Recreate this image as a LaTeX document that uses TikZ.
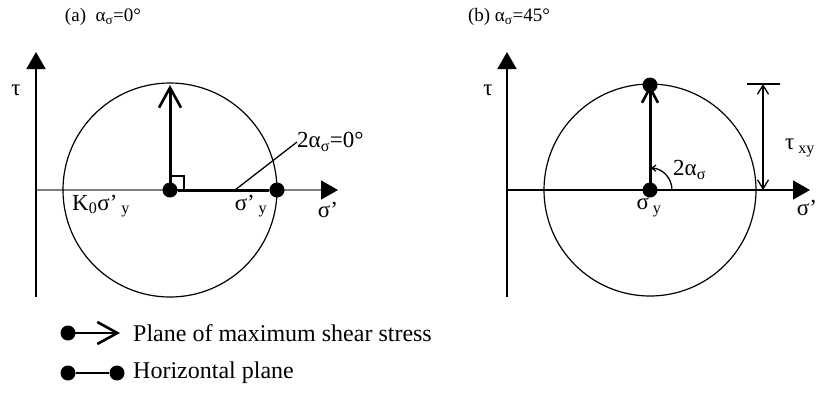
\documentclass[tikz,border=0pt]{standalone}
\usepackage{fontspec}
\setmainfont{Liberation Serif}
\usetikzlibrary{arrows.meta}

\tikzset{
  axis/.style={line width=1.8pt, -{Triangle[length=17pt,width=19pt,color=black]}},
  vec/.style={line width=3pt, -{Straight Barb[length=20pt,width=22pt,line width=2.6pt]}},
  hline/.style={line width=3pt},
  dot/.style={circle, fill, inner sep=0pt, minimum size=15pt},
  lbl/.style={font=\fontsize{23}{25}\selectfont, inner sep=0pt},
  ttl/.style={font=\fontsize{19}{21}\selectfont, inner sep=0pt}
}

\begin{document}
\begin{tikzpicture}[x=1pt, y=-1pt, font=\fontsize{23}{25}\selectfont]
		\useasboundingbox (0,0) rectangle (819,392);
		% (a) alpha = 0
		\coordinate (Ca) at (170,190);
		\coordinate (Ta) at (170,85);
		\coordinate (La) at (235,190);
		\coordinate (Ea) at (297,142);
		\node[ttl] (tta) at (103,17) {(a)\ \ α\textsubscript{σ}=0°};
		\draw[axis, draw=gray] (36,190) -- (338,190);
		\draw[axis] (36,297) -- (36,52);
		\draw[line width=1.2pt] (Ca) circle (107);
		\draw[line width=1.3pt] (Ca) rectangle ++(14,-14);
		\node[dot] (ca) at (Ca) {};
		\node[dot] (ra) at (277,190) {};
		\draw[hline] (ca) -- (ra);
		\draw[vec] (ca.center) -- (Ta);
		\draw[line width=1.3pt] (La) -- (Ea);
		\node[lbl, anchor=west] (aa) at (Ea) {2α\textsubscript{σ}=0°};
		\node[lbl] (tau_a) at (16,90) {τ};
		\node[lbl] (k0) at (101,206) {K\textsubscript{0}σ’\,\textsubscript{y}};
		\node[lbl] (sya) at (251,206) {σ’\,\textsubscript{y}};
		\node[lbl] (sxa) at (328,210) {σ’};
		% (b) alpha = 45
		\coordinate (Cb) at (650,190);
		\coordinate (Tb) at (650,85);
		\node[ttl] (ttb) at (509,17) {(b) α\textsubscript{σ}=45°};
		\draw[axis] (507,190) -- (810,190);
		\draw[axis] (507,297) -- (507,52);
		\draw[line width=1.2pt] (Cb) circle (106);
		\draw[vec, -{Straight Barb[length=15pt,width=16pt,line width=2.6pt]}] (Cb) -- (Tb);
		\node[dot] (cb) at (Cb) {};
		\node[dot] (tb) at (Tb) {};
		\draw[line width=1.3pt, -{Straight Barb[length=4pt,width=6pt]}] (672,190) arc[start angle=0, end angle=-88, radius=22];
		\node[lbl, anchor=west] (ab) at (673,170) {2α\textsubscript{σ}};
		% tau_xy
		\coordinate (D1) at (763,84);
		\coordinate (D2) at (763,190);
		\draw[line width=1.3pt] (747,84) -- (780,84);
		\draw[line width=1.3pt, {Straight Barb[length=9pt,width=11pt]}-{Straight Barb[length=9pt,width=11pt]}] (D1) -- (D2);
		\node[lbl, anchor=west] (txy) at (785,148) {τ\,\textsubscript{xy}};
		\node[lbl] (tau_b) at (488,90) {τ};
		\node[lbl] (syb) at (649,207) {σ\,\textsubscript{y}};
		\node[lbl] (sxb) at (807,208) {σ’};
		% legend
		\node[dot] (l1) at (68,333) {};
		\coordinate (l1e) at (120,333);
		\draw[vec, line width=2.6pt, -{Straight Barb[length=20pt,width=22pt,line width=2.6pt]}] (l1.center) -- (l1e);
		\node[anchor=west, inner sep=0pt, font=\fontsize{24}{26}\selectfont] (t1) at (133,333) {Plane of maximum shear stress};
		\node[dot] (l2a) at (68,373) {};
		\node[dot] (l2b) at (117,373) {};
		\draw[line width=2.6pt] (l2a) -- (l2b);
		\node[anchor=west, inner sep=0pt, font=\fontsize{24}{26}\selectfont] (t2) at (133,373) {Horizontal plane};
\end{tikzpicture}
\end{document}
